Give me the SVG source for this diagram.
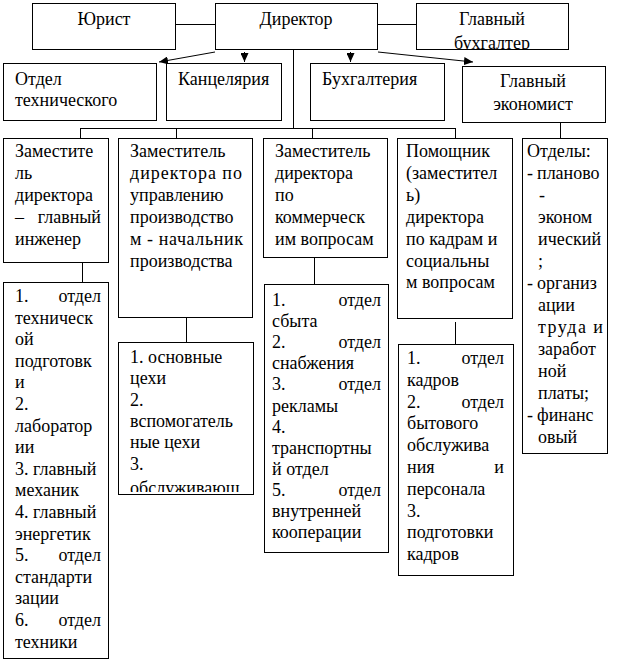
<svg xmlns="http://www.w3.org/2000/svg" width="621" height="661" viewBox="0 0 621 661">
<style>
rect{fill:#fff;stroke:#000;stroke-width:1}
text{font-size:18px;fill:#000}
.c{text-anchor:middle}
.e{text-anchor:end}
#connectors line{stroke:#000;stroke-width:1}
</style>
<defs>
<marker id="ar" markerUnits="userSpaceOnUse" markerWidth="10" markerHeight="8" refX="9" refY="4" orient="auto"><path d="M0,0L9,4L0,8Z" fill="#000"/></marker>
<clipPath id="cb"><rect x="416" y="3" width="153" height="46"/></clipPath>
<clipPath id="co"><rect x="118" y="342" width="135" height="150"/></clipPath>
</defs>
<rect x="0" y="0" width="621" height="661" style="fill:#fff;stroke:none"/>
<g id="connectors">
<line x1="176" y1="24.5" x2="215" y2="24.5"/>
<line x1="378" y1="24.5" x2="416" y2="24.5"/>
<line x1="215" y1="52" x2="159" y2="62" marker-end="url(#ar)"/>
<line x1="244.5" y1="52" x2="244.5" y2="62" marker-end="url(#ar)"/>
<line x1="350.5" y1="52" x2="350.5" y2="62" marker-end="url(#ar)"/>
<line x1="378" y1="52" x2="473" y2="62" marker-end="url(#ar)"/>
<line x1="293.5" y1="50" x2="293.5" y2="128.5"/>
<line x1="80" y1="128.5" x2="456" y2="128.5"/>
<line x1="80.5" y1="128" x2="80.5" y2="138"/>
<line x1="176.5" y1="128" x2="176.5" y2="138"/>
<line x1="312.5" y1="128" x2="312.5" y2="138"/>
<line x1="455.5" y1="128" x2="455.5" y2="138"/>
<line x1="560.5" y1="122" x2="560.5" y2="138"/>
<line x1="82.5" y1="262" x2="82.5" y2="282"/>
<line x1="186.5" y1="317" x2="186.5" y2="342"/>
<line x1="314.5" y1="257" x2="314.5" y2="284"/>
<line x1="455.5" y1="322" x2="455.5" y2="344"/>
</g>
<g font-family="Liberation Serif, DejaVu Serif, serif">
<g id="jurist"><rect x="32.5" y="3.5" width="143" height="46"/><text class="c" x="104" y="25">Юрист</text></g>
<g id="director"><rect x="215.5" y="3.5" width="162" height="46"/><text class="c" x="296" y="25">Директор</text></g>
<g id="glavbuh"><rect x="416.5" y="3.5" width="152" height="46"/><g clip-path="url(#cb)"><text class="c" x="492" y="25">Главный</text><text class="c" x="492" y="49">бухгалтер</text></g></g>
<g id="otdel-tech"><rect x="3.5" y="63.5" width="153" height="57"/><text x="15" y="85">Отдел</text><text x="15" y="106">технического</text></g>
<g id="kanc"><rect x="166.5" y="63.5" width="115" height="57"/><text x="178" y="85">Канцелярия</text></g>
<g id="buh"><rect x="310.5" y="63.5" width="134" height="57"/><text x="322" y="85">Бухгалтерия</text></g>
<g id="glavecon"><rect x="462.5" y="66.5" width="143" height="56"/><text class="c" x="533" y="87">Главный</text><text class="c" x="533" y="110">экономист</text></g>
<g id="zam-ing"><rect x="3.5" y="138.5" width="105" height="124"/>
<text x="15" y="157">Заместите</text><text x="15" y="179">ль</text><text x="15" y="201">директора</text><text x="15" y="223">–</text><text class="e" x="101" y="223">главный</text><text x="15" y="245">инженер</text></g>
<g id="zam-prod"><rect x="118.5" y="138.5" width="134" height="179"/>
<text x="130" y="157">Заместитель</text><text x="130" y="179" textLength="112" lengthAdjust="spacing">директора  по</text><text x="130" y="201">управлению</text><text x="130" y="223">производство</text><text x="130" y="245" textLength="113" lengthAdjust="spacing">м - начальник</text><text x="130" y="267">производства</text></g>
<g id="zam-kom"><rect x="263.5" y="138.5" width="124" height="119"/>
<text x="275" y="157">Заместитель</text><text x="275" y="179">директора</text><text x="275" y="201">по</text><text x="275" y="223">коммерческ</text><text x="275" y="245">им вопросам</text></g>
<g id="pom-kadr"><rect x="397.5" y="138.5" width="115" height="180"/>
<text x="406" y="157">Помощник</text><text x="406" y="179">(заместител</text><text x="406" y="201">ь)</text><text x="406" y="223">директора</text><text x="406" y="245">по кадрам и</text><text x="406" y="267">социальны</text><text x="406" y="288">м вопросам</text></g>
<g id="otdely"><rect x="522.5" y="138.5" width="85" height="315"/>
<text x="527" y="157">Отделы:</text>
<text x="527" y="179">-</text><text x="537" y="179">планово</text>
<text x="539" y="201">-</text>
<text x="538" y="223">эконом</text><text x="538" y="245">ический</text><text x="538" y="267">;</text>
<text x="527" y="289">-</text><text x="537" y="289">организ</text>
<text x="538" y="311">ации</text><text x="538" y="333" textLength="65" lengthAdjust="spacing">труда  и</text><text x="538" y="355">заработ</text><text x="538" y="377">ной</text><text x="538" y="399">платы;</text>
<text x="527" y="421">-</text><text x="537" y="421">финанс</text><text x="538" y="443">овый</text></g>
<g id="otd-ing"><rect x="3.5" y="282.5" width="105" height="376"/>
<text x="15" y="302">1.</text><text class="e" x="101" y="302">отдел</text>
<text x="15" y="323.6">техническ</text><text x="15" y="345.2">ой</text><text x="15" y="366.8">подготовк</text><text x="15" y="388.4">и</text><text x="15" y="410">2.</text><text x="15" y="431.6">лаборатор</text><text x="15" y="453.2">ии</text><text x="15" y="474.8">3. главный</text><text x="15" y="496.4">механик</text><text x="15" y="518">4. главный</text><text x="15" y="539.6">энергетик</text>
<text x="15" y="561.2">5.</text><text class="e" x="101" y="561.2">отдел</text>
<text x="15" y="582.8">стандарти</text><text x="15" y="604.4">зации</text>
<text x="15" y="626">6.</text><text class="e" x="101" y="626">отдел</text>
<text x="15" y="647.6">техники</text></g>
<g id="otd-prod"><rect x="118.5" y="342.5" width="135" height="152"/>
<g clip-path="url(#co)"><text x="130" y="363">1. основные</text><text x="130" y="384.3">цехи</text><text x="130" y="405.6">2.</text><text x="130" y="426.9">вспомогатель</text><text x="130" y="448.2">ные цехи</text><text x="130" y="469.5">3.</text><text x="130" y="494">обслуживающ</text></g></g>
<g id="otd-kom"><rect x="264.5" y="284.5" width="124" height="268"/>
<text x="272" y="306">1.</text><text class="e" x="381" y="306">отдел</text>
<text x="272" y="327.1">сбыта</text>
<text x="272" y="348.2">2.</text><text class="e" x="381" y="348.2">отдел</text>
<text x="272" y="369.3">снабжения</text>
<text x="272" y="390.4">3.</text><text class="e" x="381" y="390.4">отдел</text>
<text x="272" y="411.5">рекламы</text><text x="272" y="432.6">4.</text><text x="272" y="453.7">транспортны</text><text x="272" y="474.8">й отдел</text>
<text x="272" y="495.9">5.</text><text class="e" x="381" y="495.9">отдел</text>
<text x="272" y="517">внутренней</text><text x="272" y="538.1">кооперации</text></g>
<g id="otd-kadr"><rect x="398.5" y="344.5" width="115" height="231"/>
<text x="407" y="364">1.</text><text class="e" x="504" y="364">отдел</text>
<text x="407" y="385.8">кадров</text>
<text x="407" y="407.6">2.</text><text class="e" x="504" y="407.6">отдел</text>
<text x="407" y="429.4">бытового</text><text x="407" y="451.2">обслужива</text>
<text x="407" y="473">ния</text><text class="e" x="504" y="473">и</text>
<text x="407" y="494.8">персонала</text><text x="407" y="516.6">3.</text><text x="407" y="538.4">подготовки</text><text x="407" y="560.2">кадров</text></g>
</g>
</svg>
